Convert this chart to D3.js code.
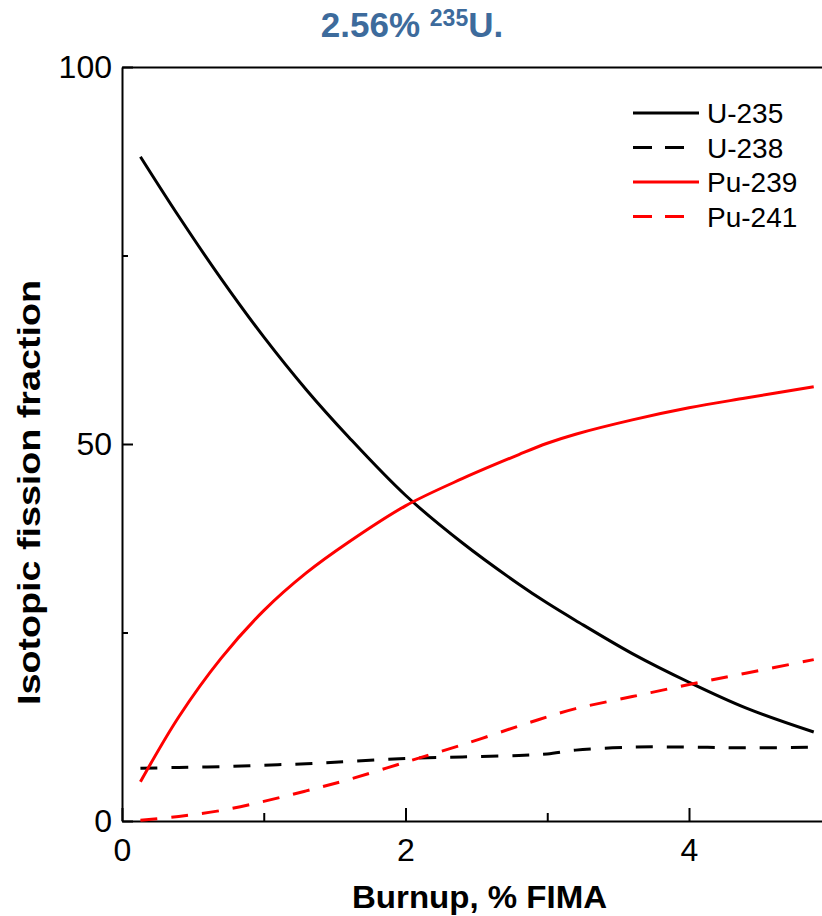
<!DOCTYPE html>
<html>
<head>
<meta charset="utf-8">
<script src="https://cdn.jsdelivr.net/npm/d3@7"></script>
<style>
  html, body { margin: 0; padding: 0; background: #fff; }
  svg { display: block; font-family: "Liberation Sans", Arial, sans-serif; }
</style>
</head>
<body>
<svg id="chart" width="822" height="916"></svg>
<script>
// Burnup (% FIMA) sample points shared by every series
const burnup = [0.13, 0.4, 0.7, 1.0, 1.3, 1.6, 2.0, 2.4, 2.8, 3.0, 3.2, 3.6, 4.0, 4.4, 4.88];
// Isotopic fission fractions (%)
const u235  = [88.1, 80.2, 71.9, 64.2, 57.2, 50.9, 43.2, 36.9, 31.4, 28.9, 26.6, 22.2, 18.4, 15.0, 11.8];
const u238  = [7.0, 7.1, 7.2, 7.4, 7.6, 7.9, 8.3, 8.5, 8.7, 8.9, 9.4, 9.8, 9.8, 9.7, 9.8];
const pu239 = [5.2, 13.8, 21.6, 27.9, 32.9, 37.0, 41.8, 45.4, 48.6, 50.1, 51.3, 53.2, 54.8, 56.1, 57.6];
const pu241 = [0.1, 0.6, 1.4, 2.6, 4.0, 5.5, 7.8, 10.1, 12.6, 13.8, 14.9, 16.5, 18.1, 19.6, 21.4];

const seriesNames  = ["U-235", "U-238", "Pu-239", "Pu-241"];
const seriesValues = [u235, u238, pu239, pu241];
const seriesColors = ["#000000", "#000000", "#ff0000", "#ff0000"];
const seriesDashed = [false, true, false, true];

const xMajorTicks = [0, 2, 4];
const xMinorTicks = [1, 3];
const yMajorTicks = [0, 50, 100];
const yMinorTicks = [25, 75];

const svg = d3.select("#chart");

const x = d3.scaleLinear().domain([0, 5]).range([122, 830.75]);
const y = d3.scaleLinear().domain([0, 100]).range([821, 67]);

// Title with superscript mass number
const title = svg.append("text")
  .attr("x", 412).attr("y", 37)
  .attr("text-anchor", "middle")
  .attr("font-weight", "bold")
  .attr("font-size", 35)
  .attr("fill", "#3d6b9c");
title.append("tspan").text("2.56% ");
title.append("tspan").attr("font-size", 23).attr("dy", -11).text("235");
title.append("tspan").attr("dy", 11).text("U.");

// Axes
function styleAxis(g) {
  g.selectAll(".domain").attr("stroke", "#000").attr("stroke-width", 2);
  g.selectAll(".tick line").attr("stroke", "#000").attr("stroke-width", 2);
  g.selectAll(".tick text").attr("font-size", 32).attr("fill", "#000")
    .attr("font-family", "'Liberation Sans', Arial, sans-serif");
}

svg.append("g")
  .attr("transform", "translate(122,0)")
  .call(d3.axisLeft(y).tickValues(yMajorTicks).tickFormat(d3.format("d"))
    .tickSize(-11).tickSizeOuter(0).tickPadding(10))
  .call(styleAxis);
svg.append("g")
  .attr("transform", "translate(122,0)")
  .call(d3.axisLeft(y).tickValues(yMinorTicks).tickSize(-6).tickSizeOuter(0).tickFormat(""))
  .call(styleAxis)
  .select(".domain").remove();

svg.append("g")
  .attr("transform", "translate(0,821)")
  .call(d3.axisBottom(x).tickValues(xMajorTicks).tickFormat(d3.format("d"))
    .tickSize(-13).tickSizeOuter(0).tickPadding(17))
  .call(styleAxis);
svg.append("g")
  .attr("transform", "translate(0,821)")
  .call(d3.axisBottom(x).tickValues(xMinorTicks).tickSize(-8).tickSizeOuter(0).tickFormat(""))
  .call(styleAxis)
  .select(".domain").remove();

// Top frame line
svg.append("g")
  .attr("transform", "translate(0,67)")
  .call(d3.axisTop(x).tickValues([]).tickSizeOuter(0))
  .call(styleAxis);

// Axis titles
svg.append("text")
  .attr("x", 352).attr("y", 908)
  .attr("font-weight", "bold")
  .attr("font-size", 32)
  .attr("textLength", 255)
  .attr("lengthAdjust", "spacingAndGlyphs")
  .text("Burnup, % FIMA");

svg.append("text")
  .attr("transform", "translate(40,705) rotate(-90)")
  .attr("font-weight", "bold")
  .attr("font-size", 31)
  .attr("textLength", 425)
  .attr("lengthAdjust", "spacingAndGlyphs")
  .text("Isotopic fission fraction");

// Curves
const line = d3.line()
  .x(d => x(d[0]))
  .y(d => y(d[1]))
  .curve(d3.curveCatmullRom.alpha(0.5));

seriesValues.forEach((vals, i) => {
  svg.append("path")
    .datum(burnup.map((b, j) => [b, vals[j]]))
    .attr("fill", "none")
    .attr("stroke", seriesColors[i])
    .attr("stroke-width", 3)
    .attr("stroke-dasharray", seriesDashed[i] ? "17,14" : null)
    .attr("d", line);
});

// Legend
const legend = svg.append("g");
seriesNames.forEach((name, i) => {
  const ly = 113 + i * 34.5;
  legend.append("line")
    .attr("x1", 633).attr("x2", seriesDashed[i] ? 684 : 699)
    .attr("y1", ly).attr("y2", ly)
    .attr("stroke", seriesColors[i])
    .attr("stroke-width", 3)
    .attr("stroke-dasharray", seriesDashed[i] ? "19,13" : null);
  legend.append("text")
    .attr("x", 707).attr("y", ly + 10)
    .attr("font-size", 28)
    .attr("fill", "#000")
    .text(name);
});
</script>
</body>
</html>
